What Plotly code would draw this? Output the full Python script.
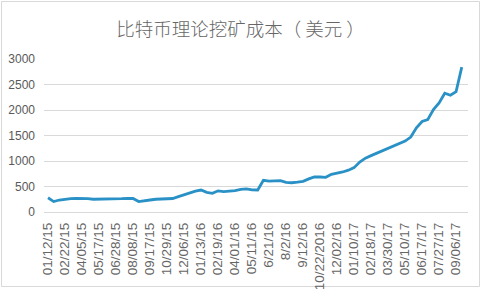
import plotly.graph_objects as go

title_text = "比特币理论挖矿成本（ 美元 ）"

tick_labels = ["01/12/15", "02/22/15", "04/05/15", "05/17/15", "06/28/15", "08/08/15",
               "09/17/15", "10/29/15", "12/06/15", "01/13/16", "02/19/16", "04/01/16",
               "05/11/16", "6/21/16", "8/2/16", "9/12/16", "10/22/2016", "12/02/16",
               "01/10/17", "02/18/17", "03/30/17", "05/10/17", "06/17/17", "07/27/17",
               "09/06/17"]

cost_usd = [280, 205, 235, 255, 262, 268, 268, 262, 250, 250,
            252, 255, 258, 261, 268, 265, 205, 215, 235, 250,
            255, 255, 265, 300, 340, 375, 410, 430, 385, 366,
            415, 400, 410, 420, 445, 455, 435, 431, 620, 605,
            610, 614, 580, 574, 585, 601, 650, 690, 686, 680,
            740, 760, 785, 820, 870, 980, 1055, 1105, 1150, 1195,
            1240, 1300, 1330, 1390, 1470, 1650, 1775, 1810, 2010, 2140,
            2330, 2290, 2360, 2840]

points_per_label = 3
x_idx = list(range(len(cost_usd)))
tick_pos = x_idx[::points_per_label][:len(tick_labels)]

fig = go.Figure()
fig.add_trace(go.Scatter(
    x=x_idx, y=cost_usd, mode="lines",
    line=dict(color="#2A91C6", width=2.8),
    hoverinfo="skip", showlegend=False,
))

W, H = 481, 289
ml, mr, mt, mb = 44, 13, 59, 77
fig.update_layout(
    width=W, height=H,
    margin=dict(l=ml, r=mr, t=mt, b=mb, autoexpand=False),
    paper_bgcolor="white", plot_bgcolor="white",
    title=dict(text=title_text, x=0.5, xanchor="center", y=1 - 30 / H, yanchor="middle",
               automargin=False,
               font=dict(family="Noto Sans CJK SC", size=18.5, weight=300, color="#666666")),
    font=dict(family="Liberation Sans, Arial", size=12, color="#595959"),
    xaxis=dict(
        range=[-0.71, 74.1], automargin=False,
        tickmode="array", tickvals=tick_pos, ticktext=tick_labels,
        tickangle=-90, showgrid=False, zeroline=False, showline=False,
        ticks="", ticklabelstandoff=7,
        tickfont=dict(size=13.5, color="#666666"),
    ),
    yaxis=dict(
        range=[0, 3000], tickvals=[0, 500, 1000, 1500, 2000, 2500, 3000],
        automargin=False,
        showgrid=True, gridcolor="#D9D9D9", gridwidth=1,
        zeroline=True, zerolinecolor="#D9D9D9", zerolinewidth=1,
        showline=False, ticks="", ticklabelstandoff=8,
        tickfont=dict(size=12, color="#595959"),
    ),
)

# light chart border
fig.add_shape(type="rect", xref="paper", yref="paper",
              x0=(1.5 - ml) / (W - ml - mr), x1=(W - 1.5 - ml) / (W - ml - mr),
              y0=-(mb - 2.5) / (H - mt - mb), y1=1 + (mt - 1.5) / (H - mt - mb),
              line=dict(color="#D9D9D9", width=1), layer="below")

fig.write_html("out.html")
